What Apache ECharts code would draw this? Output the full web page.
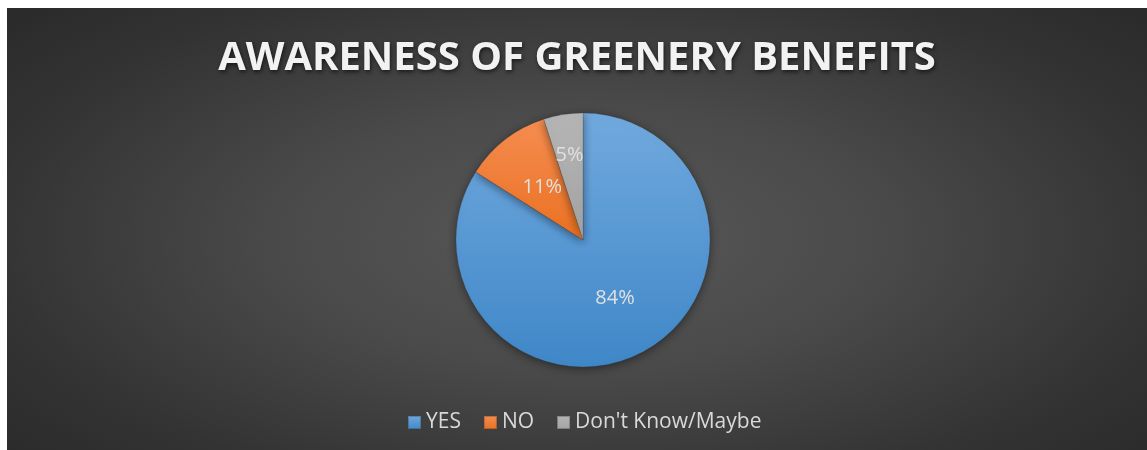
<!DOCTYPE html>
<html>
<head>
<meta charset="utf-8">
<script src="https://cdn.jsdelivr.net/npm/echarts@6/dist/echarts.min.js"></script>
<style>
html,body{margin:0;padding:0;background:#ffffff;}
#chart{position:absolute;left:7px;top:8px;width:1140px;height:442px;
background:radial-gradient(ellipse 75% 85% at 50.5% 52%, #585858 0%, #4a4a4a 35%, #333333 70%, #262626 100%);}
</style>
</head>
<body>
<div id="chart"></div>
<script>
const titleText = 'AWARENESS OF GREENERY BENEFITS';
const categories = ['YES', 'NO', "Don't Know/Maybe"];
const values = [84, 11, 5];
const colorTops = ['#71a9de', '#f58d50', '#b5b5b5'];
const colorBottoms = ['#3f87c8', '#ea7022', '#a3a3a3'];

const labelStyle = {
  show: true,
  position: 'inside',
  formatter: '{d}%',
  fontFamily: 'Open Sans',
  fontSize: 20,
  color: '#e0e0e0'
};

const chart = echarts.init(document.getElementById('chart'));
const data = categories.map((c, i) => ({
  name: c,
  value: values[i],
  itemStyle: {
    color: new echarts.graphic.LinearGradient(0, 0, 0, 1, [
      {offset: 0, color: colorTops[i]},
      {offset: 1, color: colorBottoms[i]}
    ])
  },
  label: {show: values[i] >= 8}
}));
// overlay series (transparent) used only to place labels of thin slices further out
const smallLabelData = categories.map((c, i) => ({
  name: c,
  value: values[i],
  label: {show: values[i] < 8}
}));
chart.setOption({
  animation: false,
  title: {
    text: titleText,
    left: 'center',
    top: 26,
    textStyle: {
      fontFamily: 'Open Sans',
      fontWeight: 'bold',
      fontSize: 40,
      color: '#f2f2f2',
      textShadowColor: 'rgba(0,0,0,0.6)',
      textShadowBlur: 4,
      textShadowOffsetX: 1,
      textShadowOffsetY: 2
    }
  },
  legend: {
    bottom: 12,
    left: 395,
    icon: 'rect',
    itemWidth: 13,
    itemHeight: 13,
    itemGap: 22,
    textStyle: {fontFamily: 'Open Sans', fontSize: 21, color: '#d9d9d9'},
    data: categories
  },
  series: [{
    type: 'pie',
    name: 'main',
    center: [576, 232],
    radius: [0, 127],
    startAngle: 90,
    clockwise: true,
    avoidLabelOverlap: false,
    data: data,
    itemStyle: {
      borderColor: 'rgba(60,60,60,0.35)',
      borderWidth: 0.6,
      shadowBlur: 10,
      shadowColor: 'rgba(0,0,0,0.45)',
      shadowOffsetY: 2
    },
    label: labelStyle,
    labelLine: {show: false},
    emphasis: {disabled: true}
  }, {
    type: 'pie',
    name: 'labels',
    center: [576, 232],
    radius: [0, 166],
    startAngle: 90,
    clockwise: true,
    avoidLabelOverlap: false,
    silent: true,
    legendHoverLink: false,
    data: smallLabelData,
    itemStyle: {color: 'rgba(0,0,0,0)', borderWidth: 0},
    label: labelStyle,
    labelLine: {show: false},
    emphasis: {disabled: true},
    tooltip: {show: false}
  }]
});
</script>
</body>
</html>
